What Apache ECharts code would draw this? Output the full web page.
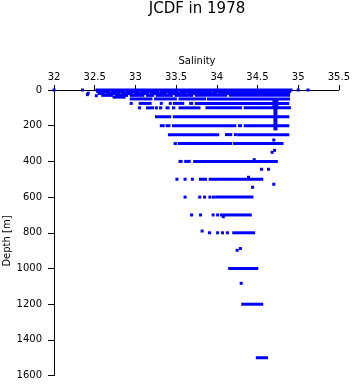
<!DOCTYPE html>
<html>
<head>
<meta charset="utf-8">
<script src="https://cdn.jsdelivr.net/npm/echarts@6/dist/echarts.min.js"></script>
<style>
html,body{margin:0;padding:0;background:#fff;}
#chart{width:353px;height:384px;}
</style>
</head>
<body>
<div id="chart"></div>
<script>
// ---- data (salinity in PSU, depth in m) ----
const xTickLabels = ['32', '32.5', '33', '33.5', '34', '34.5', '35', '35.5'];
const yTickLabels = ['0', '200', '400', '600', '800', '1000', '1200', '1400', '1600'];

// dense rows of observations: [depth, salinity from, salinity to]
const topBandSegments = [
  [0, 32.51, 34.93],
  [10, 32.52, 32.69], [10, 32.70, 32.87], [10, 32.88, 33.05], [10, 33.06, 33.29], [10, 33.30, 33.53], [10, 33.54, 33.94], [10, 33.95, 34.91],
  [20, 32.54, 32.63], [20, 32.64, 32.81], [20, 32.82, 32.97], [20, 32.98, 33.17], [20, 33.18, 33.39], [20, 33.40, 33.63], [20, 33.64, 34.01], [20, 34.02, 34.90],
  [30, 32.58, 32.73], [30, 32.75, 32.91], [30, 32.93, 33.11], [30, 33.13, 33.23], [30, 33.25, 33.46], [30, 33.48, 33.71], [30, 33.73, 34.13], [30, 34.15, 34.90],
  [40, 32.72, 32.88],
  [50, 32.93, 33.21], [50, 33.23, 33.51], [50, 33.53, 33.87], [50, 33.88, 34.90]
];
const midSegments = [
  [75, 32.93, 32.96], [75, 33.04, 33.20], [75, 33.30, 33.33], [75, 33.41, 33.44], [75, 33.46, 33.60], [75, 33.66, 33.71], [75, 33.73, 34.89],
  [100, 33.13, 33.23], [100, 33.24, 33.27], [100, 33.29, 33.33], [100, 33.37, 33.42], [100, 33.45, 33.49], [100, 33.53, 33.80], [100, 33.86, 34.31], [100, 34.33, 34.91],
  [150, 33.24, 33.44], [150, 33.46, 34.89],
  [200, 33.30, 33.36], [200, 33.37, 33.43], [200, 33.45, 34.24], [200, 34.26, 34.31], [200, 34.33, 34.89],
  [250, 33.40, 34.03], [250, 34.10, 34.19], [250, 34.21, 34.24], [250, 34.25, 34.89],
  [300, 33.47, 33.51], [300, 33.52, 34.19], [300, 34.20, 34.82]
];
const deepSegments = [
  [400, 33.53, 33.58], [400, 33.60, 33.68], [400, 33.71, 34.75],
  [500, 33.78, 33.88], [500, 33.90, 34.57],
  [600, 33.98, 34.45],
  [700, 34.04, 34.43],
  [800, 34.19, 34.47],
  [1000, 34.14, 34.51],
  [1200, 34.30, 34.57],
  [1500, 34.48, 34.63]
];
// one station profiled densely near 34.7: [salinity from, salinity to, depth from, depth to]
const columnBlocks = [
  [34.684, 34.757, 62, 85],
  [34.696, 34.745, 85, 218]
];
// single observations: [salinity, depth]
const isolatedPoints = [
  [32.00, 0], [32.35, 0], [35.00, 0], [35.12, 0], [32.42, 18], [32.41, 26], [32.52, 32],
  [33.05, 100],
  [34.70, 280], [34.71, 338], [34.68, 349], [34.46, 390], [34.55, 444], [34.635, 444],
  [34.39, 489], [34.70, 528], [34.44, 545],
  [33.51, 500], [33.61, 500], [33.70, 500],
  [33.61, 600], [33.79, 600], [33.85, 600], [33.915, 600], [33.96, 600],
  [33.69, 700], [33.80, 700], [33.955, 700], [34.01, 700], [34.08, 710],
  [33.82, 790], [33.91, 800], [34.01, 800], [34.07, 800], [34.13, 800],
  [34.25, 898], [34.29, 888],
  [34.30, 1083]
];

const BLUE = '#0000ff';
const FONT = 'DejaVu Sans';
const rowSegments = topBandSegments.concat(midSegments, deepSegments);

const chart = echarts.init(document.getElementById('chart'), null, {renderer: 'canvas'});
chart.setOption({
  animation: false,
  backgroundColor: '#fff',
  grid: {left: 54, top: 90, width: 286, height: 285.6, containLabel: false},
  graphic: [
    {type: 'text', x: 197, y: 9, style: {text: 'JCDF in 1978', x: 0, y: 0, align: 'center', verticalAlign: 'middle', font: '15px "DejaVu Sans"', fill: '#000'}},
    {type: 'text', x: 197, y: 61, style: {text: 'Salinity', x: 0, y: 0, align: 'center', verticalAlign: 'middle', font: '10px "DejaVu Sans"', fill: '#000'}},
    {type: 'text', x: 7, y: 241, rotation: Math.PI / 2, style: {text: 'Depth [m]', x: 0, y: 0, align: 'center', verticalAlign: 'middle', font: '10px "DejaVu Sans"', fill: '#000'}}
  ],
  xAxis: {
    type: 'value', position: 'top', min: 32, max: 35.5, interval: 0.5,
    axisLine: {show: true, onZero: false, lineStyle: {color: '#000', width: 1}},
    axisTick: {show: true, inside: false, length: 5, lineStyle: {color: '#000', width: 1}},
    axisLabel: {show: true, color: '#000', fontFamily: FONT, fontSize: 10, margin: 8,
      formatter: v => xTickLabels[Math.round((v - 32) / 0.5)] ?? ''},
    splitLine: {show: false}
  },
  yAxis: {
    type: 'value', inverse: true, min: 0, max: 1600, interval: 200,
    axisLine: {show: true, onZero: false, lineStyle: {color: '#000', width: 1}},
    axisTick: {show: true, inside: false, length: 6, lineStyle: {color: '#000', width: 1}},
    axisLabel: {show: true, color: '#000', fontFamily: FONT, fontSize: 10, margin: 12,
      formatter: v => yTickLabels[Math.round(v / 200)] ?? ''},
    splitLine: {show: false}
  },
  series: [
    {
      type: 'custom', coordinateSystem: 'cartesian2d',
      data: rowSegments.map(r => [r[1], r[2], r[0]]),
      encode: {x: [0, 1], y: 2},
      renderItem: (params, api) => {
        const p1 = api.coord([api.value(0), api.value(2)]);
        const p2 = api.coord([api.value(1), api.value(2)]);
        return {type: 'rect', shape: {x: p1[0], y: p1[1] - 1.5, width: Math.max(p2[0] - p1[0], 3), height: 3}, style: {fill: BLUE}};
      }
    },
    {
      type: 'custom', coordinateSystem: 'cartesian2d',
      data: columnBlocks,
      encode: {x: [0, 1], y: [2, 3]},
      renderItem: (params, api) => {
        const p1 = api.coord([api.value(0), api.value(2)]);
        const p2 = api.coord([api.value(1), api.value(3)]);
        return {type: 'rect', shape: {x: p1[0], y: p1[1] - 1.5, width: p2[0] - p1[0], height: p2[1] - p1[1] + 3}, style: {fill: BLUE}};
      }
    },
    {
      type: 'scatter', data: isolatedPoints, symbol: 'rect', symbolSize: 3,
      itemStyle: {color: BLUE, opacity: 1}
    }
  ]
});
</script>
</body>
</html>
